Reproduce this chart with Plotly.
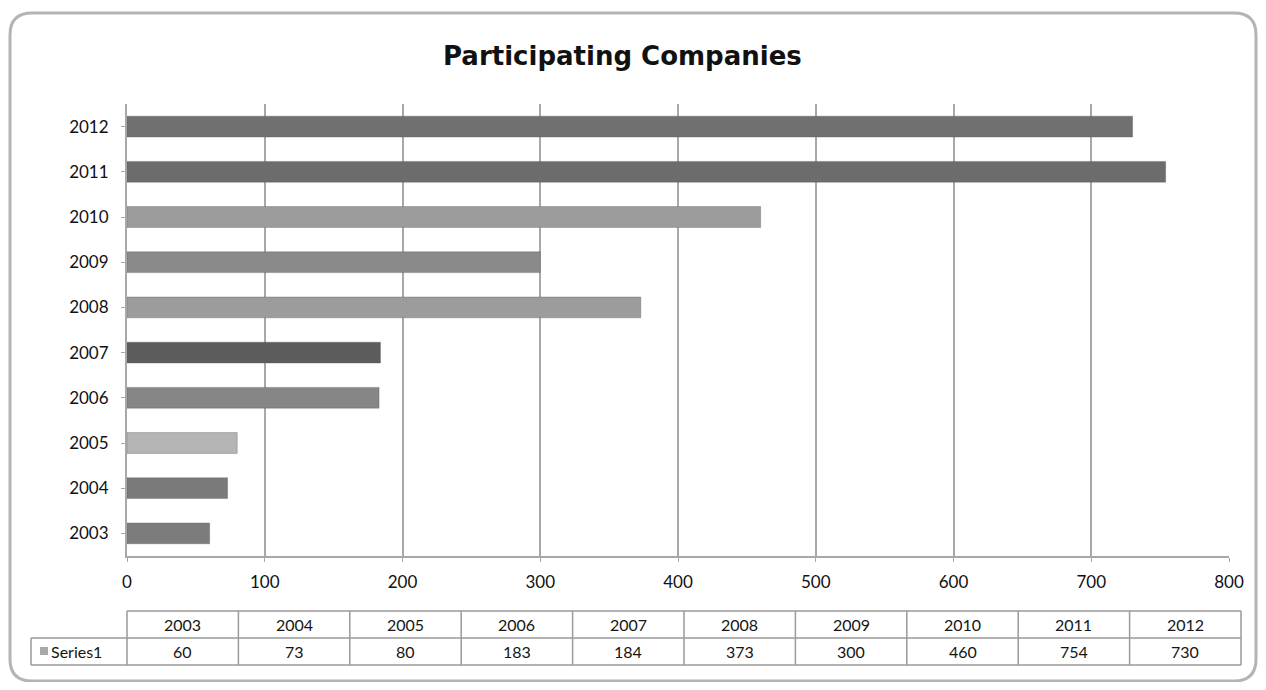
import plotly.graph_objects as go

title = "Participating Companies"
years = ["2003", "2004", "2005", "2006", "2007", "2008", "2009", "2010", "2011", "2012"]
values = [60, 73, 80, 183, 184, 373, 300, 460, 754, 730]
series_name = "Series1"
bar_colors = ["#7c7c7c", "#7a7a7a", "#b5b5b5", "#868686", "#5c5c5c",
              "#9c9c9c", "#8a8a8a", "#9c9c9c", "#6c6c6c", "#707070"]
x_ticks = [0, 100, 200, 300, 400, 500, 600, 700, 800]

OFF = 8  # page body margin
W_FIG, H_FIG = 1266 - 2 * OFF, 690 - 2 * OFF
# plot area in screenshot pixels
L, R, T, B = 127, 1229, 104, 556
PW, PH = R - L, B - T


def px(x):
    return (x - L) / PW


def py(y):
    return (B - y) / PH


fig = go.Figure()
fig.add_trace(go.Bar(
    x=values, y=years, orientation="h", width=0.46,
    marker=dict(color=bar_colors, line=dict(color="rgba(90,90,90,0.35)", width=1)),
    showlegend=False, hoverinfo="x+y",
))

shapes = []
annotations = []

# outer rounded border
x0, y0, x1, y1, r = 10, 13, 1256, 681, 22
path = (f"M {px(x0+r)},{py(y0)} L {px(x1-r)},{py(y0)} Q {px(x1)},{py(y0)} {px(x1)},{py(y0+r)} "
        f"L {px(x1)},{py(y1-r)} Q {px(x1)},{py(y1)} {px(x1-r)},{py(y1)} "
        f"L {px(x0+r)},{py(y1)} Q {px(x0)},{py(y1)} {px(x0)},{py(y1-r)} "
        f"L {px(x0)},{py(y0+r)} Q {px(x0)},{py(y0)} {px(x0+r)},{py(y0)} Z")
shapes.append(dict(type="path", xref="paper", yref="paper", path=path,
                   line=dict(color="#b4b4b4", width=3), layer="below"))

# data table
tab_l, tab_r = 127, 1241
leg_l = 31
r_top, r_mid, r_bot = 611, 638, 665
line_col = "#9a9a9a"
n = len(years)
cw = (tab_r - tab_l) / n


def hline(xa, xb, y):
    shapes.append(dict(type="line", xref="paper", yref="paper",
                       x0=px(xa), x1=px(xb), y0=py(y), y1=py(y),
                       line=dict(color=line_col, width=1.5)))


def vline(x, ya, yb):
    shapes.append(dict(type="line", xref="paper", yref="paper",
                       x0=px(x), x1=px(x), y0=py(ya), y1=py(yb),
                       line=dict(color=line_col, width=1.5)))


hline(tab_l, tab_r, r_top)
hline(leg_l, tab_r, r_mid)
hline(leg_l, tab_r, r_bot)
vline(leg_l, r_mid, r_bot)
for i in range(n + 1):
    vline(tab_l + i * cw, r_top, r_bot)

tfont = dict(family="Lato, Carlito, Liberation Sans, sans-serif", size=16, color="#151515")
for i, (yr, v) in enumerate(zip(years, values)):
    cx = px(tab_l + (i + 0.5) * cw)
    annotations.append(dict(x=cx, y=py((r_top + r_mid) / 2), xref="paper", yref="paper",
                            text=yr, showarrow=False, font=tfont,
                            xanchor="center", yanchor="middle"))
    annotations.append(dict(x=cx, y=py((r_mid + r_bot) / 2), xref="paper", yref="paper",
                            text=str(v), showarrow=False, font=tfont,
                            xanchor="center", yanchor="middle"))

# legend key in table
shapes.append(dict(type="rect", xref="paper", yref="paper",
                   x0=px(40), x1=px(48), y0=py(647), y1=py(655),
                   fillcolor="#a8a8a8", line=dict(width=0)))
annotations.append(dict(x=px(49), y=py((r_mid + r_bot) / 2), xref="paper", yref="paper",
                        text=series_name, showarrow=False, font=tfont,
                        xanchor="left", yanchor="middle"))

# title
annotations.append(dict(x=px(622), y=py(56), xref="paper", yref="paper",
                        text="<b>" + title + "</b>", showarrow=False,
                        font=dict(family="DejaVu Sans, Verdana, sans-serif", size=26, color="#111"),
                        xanchor="center", yanchor="middle"))

tick_font = dict(family="Lato, Carlito, Liberation Sans, sans-serif", size=17, color="#111")

fig.update_layout(
    width=W_FIG, height=H_FIG,
    margin=dict(l=L - OFF, r=W_FIG - (R - OFF), t=T - OFF, b=H_FIG - (B - OFF), autoexpand=False),
    paper_bgcolor="white", plot_bgcolor="white",
    shapes=shapes, annotations=annotations,
    xaxis=dict(range=[0, 800], tickvals=x_ticks, ticktext=[str(t) for t in x_ticks],
               showgrid=True, gridcolor="#a8a8a8", gridwidth=2,
               showline=True, linecolor="#a8a8a8", linewidth=2,
               ticks="outside", ticklen=4, tickcolor="#a8a8a8",
               ticklabelstandoff=6,
               tickfont=tick_font, zeroline=False, fixedrange=True),
    yaxis=dict(type="category", categoryorder="array", categoryarray=years,
               range=[-0.5, len(years) - 0.5],
               showgrid=False, showline=True, linecolor="#a8a8a8", linewidth=2,
               ticks="outside", ticklen=4, tickcolor="#a8a8a8",
               ticklabelstandoff=9,
               tickfont=tick_font, fixedrange=True),
)

fig.write_html("out.html")
